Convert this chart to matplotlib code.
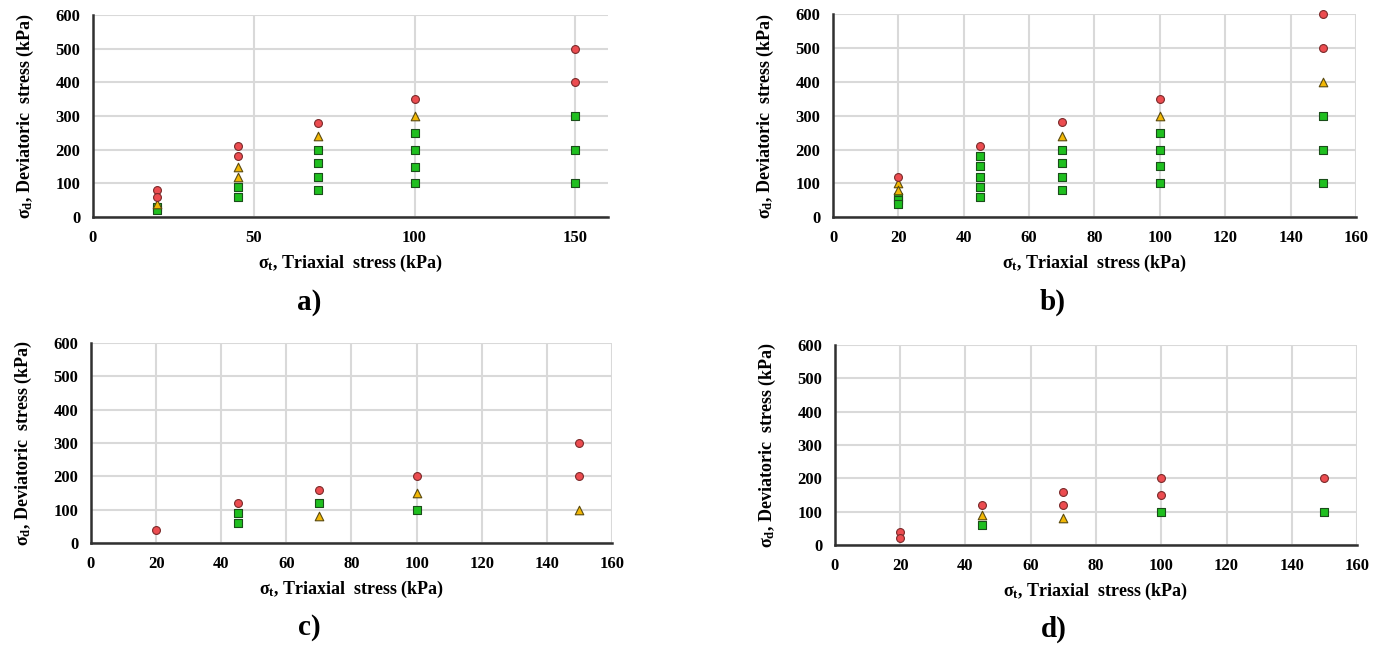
import matplotlib
matplotlib.use('Agg')
import matplotlib.pyplot as plt

plt.rcParams['font.family'] = 'Liberation Serif'
plt.rcParams['font.weight'] = 'bold'
plt.rcParams['mathtext.fontset'] = 'custom'
plt.rcParams['mathtext.rm'] = 'Liberation Serif:bold'
plt.rcParams['mathtext.it'] = 'Liberation Serif:bold'

# data per panel: (x, y) pairs for circles, triangles, squares
a_circ_x = [20, 20, 45, 45, 70, 100, 150, 150]
a_circ_y = [80, 60, 210, 180, 280, 350, 500, 400]
a_tri_x = [20, 45, 45, 70, 100]
a_tri_y = [40, 150, 120, 240, 300]
a_sq_x = [20, 20, 45, 45, 70, 70, 70, 70, 100, 100, 100, 100, 150, 150, 150]
a_sq_y = [30, 20, 90, 60, 200, 160, 120, 80, 250, 200, 150, 100, 300, 200, 100]

b_circ_x = [20, 45, 70, 100, 150, 150]
b_circ_y = [120, 210, 280, 350, 600, 500]
b_tri_x = [20, 20, 70, 100, 150]
b_tri_y = [100, 80, 240, 300, 400]
b_sq_x = [20, 20, 20, 45, 45, 45, 45, 45, 70, 70, 70, 70, 100, 100, 100, 100, 150, 150, 150]
b_sq_y = [60, 50, 40, 180, 150, 120, 90, 60, 200, 160, 120, 80, 250, 200, 150, 100, 300, 200, 100]

c_circ_x = [20, 45, 70, 100, 150, 150]
c_circ_y = [40, 120, 160, 200, 300, 200]
c_tri_x = [70, 100, 150]
c_tri_y = [80, 150, 100]
c_sq_x = [45, 45, 70, 100]
c_sq_y = [90, 60, 120, 100]

d_circ_x = [20, 20, 45, 70, 70, 100, 100, 150]
d_circ_y = [40, 20, 120, 160, 120, 200, 150, 200]
d_tri_x = [45, 70]
d_tri_y = [90, 80]
d_sq_x = [45, 100, 150]
d_sq_y = [60, 100, 100]

panels = [
    ('a)', [0.067, 0.667, 0.371, 0.310], [0, 50, 100, 150],
     a_circ_x, a_circ_y, a_tri_x, a_tri_y, a_sq_x, a_sq_y),
    ('b)', [0.6006, 0.667, 0.377, 0.311], list(range(0, 161, 20)),
     b_circ_x, b_circ_y, b_tri_x, b_tri_y, b_sq_x, b_sq_y),
    ('c)', [0.0656, 0.167, 0.3756, 0.307], list(range(0, 161, 20)),
     c_circ_x, c_circ_y, c_tri_x, c_tri_y, c_sq_x, c_sq_y),
    ('d)', [0.602, 0.164, 0.3764, 0.307], list(range(0, 161, 20)),
     d_circ_x, d_circ_y, d_tri_x, d_tri_y, d_sq_x, d_sq_y),
]

fig = plt.figure(figsize=(13.87, 6.52), dpi=100)

for label, rect, xticks, cx, cy, tx, ty, sx, sy in panels:
    ax = fig.add_axes(rect)
    ax.scatter(sx, sy, marker='s', s=32, color='#1fbf1f', edgecolor='#1a4d1a', linewidth=0.8, zorder=3, clip_on=False)
    ax.scatter(tx, ty, marker='^', s=38, color='#f2b705', edgecolor='#5a4a10', linewidth=0.8, zorder=3, clip_on=False)
    ax.scatter(cx, cy, marker='o', s=32, color='#ec4c50', edgecolor='#7a2a2a', linewidth=0.8, zorder=3, clip_on=False)
    ax.set_xlim(0, 160)
    ax.set_ylim(0, 600)
    ax.set_xticks(xticks)
    ax.set_yticks(range(0, 601, 100))
    ax.grid(True, color='#d9d9d9', linewidth=1.5)
    ax.set_axisbelow(True)
    for s in ['top', 'right']:
        ax.spines[s].set_visible(False)
    for s in ['left', 'bottom']:
        ax.spines[s].set_color('#303030')
        ax.spines[s].set_linewidth(1.8)
    ax.tick_params(length=0, labelsize=12, pad=9)
    ax.set_xlabel(r'$\sigma_t$, Triaxial  stress (kPa)', fontsize=13, fontweight='bold', labelpad=5)
    ax.set_ylabel(r'$\sigma_d$, Deviatoric  stress (kPa)', fontsize=13, fontweight='bold', labelpad=14)
    ax.text(0.42, -0.42, label, transform=ax.transAxes, fontsize=21, fontweight='bold',
            ha='center', va='center')

plt.savefig('out.png', dpi=100)
